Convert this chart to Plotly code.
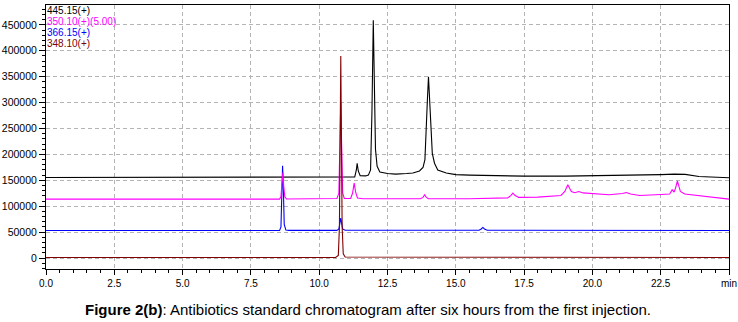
import plotly.graph_objects as go

# ---- data (time in min, signal in counts) ----
black_t = [0, 11.2, 11.30, 11.36, 11.39, 11.43, 11.50, 11.70, 11.80, 11.88, 11.93, 11.98, 12.02, 12.06, 12.12,
           12.22, 12.5, 12.8, 13.2, 13.43, 13.67, 13.80, 13.87, 13.92, 13.96, 14.00, 14.04, 14.09, 14.14, 14.22,
           14.34, 14.65, 15.0, 15.5, 16.5, 17.5, 19.0, 20.0, 21.5, 22.5, 23.0, 23.4, 23.9, 24.6, 25.0]
black_y = [155400, 155500, 156500, 170000, 183000, 168000, 159000, 158500, 160000, 170000, 280000, 459000, 300000,
           210000, 177000, 166000, 163000, 162000, 163000, 164000, 168000, 175000, 190000, 240000, 305000, 350000,
           305000, 241000, 202000, 183000, 170000, 164000, 161000, 160000, 158500, 158000, 158000, 158700, 159300,
           161000, 162000, 161500, 157400, 155000, 154800]

magenta_t = [0, 8.55, 8.60, 8.64, 8.67, 8.70, 8.74, 8.80, 10.5, 10.65, 10.72, 10.76, 10.79, 10.82, 10.86, 10.92,
             11.15, 11.22, 11.28, 11.33, 11.40, 11.6, 13.7, 13.80, 13.86, 13.92, 14.0, 15.5, 16.0, 16.2, 16.9,
             17.02, 17.09, 17.16, 17.3, 18.0, 18.85, 18.99, 19.05, 19.10, 19.17, 19.23, 19.35, 19.50, 19.66,
             20.0, 20.6, 21.1, 21.24, 21.4, 21.73, 22.5, 22.83, 22.92, 22.99, 23.05, 23.11, 23.17, 23.22, 23.38,
             23.7, 24.18, 24.6, 25.0]
magenta_y = [113700, 113700, 118000, 150000, 165000, 140000, 118000, 114000, 114000, 115000, 125000, 220000,
             300000, 220000, 125000, 115000, 115000, 125000, 144600, 128000, 116000, 114500, 114300, 117000,
             122000, 117000, 114500, 114500, 115500, 114800, 116000, 121000, 125300, 121000, 117000, 117500,
             120700, 128400, 136000, 141300, 134000, 128400, 126000, 128400, 125700, 124000, 122000, 124500,
             126500, 123500, 120700, 122500, 123400, 131700, 127200, 136000, 149000, 138000, 128400, 123400,
             121500, 118800, 116500, 113700]

blue_t = [0, 8.55, 8.60, 8.63, 8.66, 8.69, 8.72, 8.78, 8.9, 10.65, 10.72, 10.76, 10.79, 10.82, 10.86, 10.95,
          15.85, 15.93, 15.99, 16.05, 16.15, 25.0]
blue_y = [53200, 53200, 60000, 130000, 178000, 130000, 65000, 54000, 53300, 53300, 56000, 68000, 77000, 68000,
          56000, 53500, 53500, 56000, 59000, 56000, 53500, 53200]

red_t = [0, 10.6, 10.70, 10.74, 10.77, 10.79, 10.81, 10.84, 10.88, 10.95, 25.0]
red_y = [1100, 1100, 5000, 60000, 250000, 390000, 250000, 60000, 8000, 2000, 1100]

series_names = ["445.15(+)", "350.10(+)(5.00)", "366.15(+)", "348.10(+)"]
series_colors = ["#000000", "#ff00ff", "#0000ff", "#800000"]

x_ticks = [0, 2.5, 5.0, 7.5, 10.0, 12.5, 15.0, 17.5, 20.0, 22.5, 25.0]
x_ticktext = ["0.0", "2.5", "5.0", "7.5", "10.0", "12.5", "15.0", "17.5", "20.0", "22.5", "min"]
y_ticks = [0, 50000, 100000, 150000, 200000, 250000, 300000, 350000, 400000, 450000]

caption = "<b>Figure 2(b)</b>: Antibiotics standard chromatogram after six hours from the first injection."

FONT = "Liberation Sans, Arial, sans-serif"

fig = go.Figure()
traces = [(black_t, black_y, 0), (blue_t, blue_y, 2), (magenta_t, magenta_y, 1), (red_t, red_y, 3)]
for t, y, i in traces:
    fig.add_trace(go.Scatter(x=t, y=y, mode="lines", name=series_names[i],
                             line=dict(color=series_colors[i], width=1.1), showlegend=False))

# legend-like labels at top-left
label_y = [0.981, 0.937, 0.896, 0.854]
for i, name in enumerate(series_names):
    fig.add_annotation(text=name, xref="paper", yref="paper", x=0, y=label_y[i],
                       xanchor="left", yanchor="middle", showarrow=False, borderpad=0,
                       font=dict(family=FONT, size=10, color=series_colors[i]))

fig.add_annotation(text=caption, xref="paper", yref="paper", x=0.471, y=-0.154,
                   xanchor="center", yanchor="middle", showarrow=False,
                   font=dict(family=FONT, size=15, color="#000000"))

fig.update_layout(
    width=738, height=322,
    margin=dict(l=46, r=9, t=5, b=53, autoexpand=False),
    paper_bgcolor="white", plot_bgcolor="white",
    font=dict(family=FONT, size=10, color="#000000"),
    showlegend=False,
)
fig.update_xaxes(range=[0, 25], tickmode="array", tickvals=x_ticks, ticktext=x_ticktext,
                 showline=True, linecolor="black", linewidth=1, mirror=True,
                 ticks="outside", ticklen=5, tickcolor="black", tickwidth=1,
                 showgrid=True, gridcolor="#b4b4b4", griddash="4px,3px", gridwidth=1,
                 zeroline=False, tickfont=dict(size=10),
                 minor=dict(dtick=0.5, ticks="outside", ticklen=3, tickcolor="black", showgrid=False))
fig.update_yaxes(range=[-21200, 488400], tickmode="array", tickvals=y_ticks, tickformat="d",
                 showline=True, linecolor="black", linewidth=1, mirror=True,
                 ticks="outside", ticklen=6, tickcolor="black", tickwidth=1,
                 showgrid=True, gridcolor="#b4b4b4", griddash="4px,3px", gridwidth=1,
                 zeroline=False, tickfont=dict(size=10.5),
                 minor=dict(dtick=10000, ticks="outside", ticklen=3, tickcolor="black", showgrid=False))

fig.write_html("out.html")
